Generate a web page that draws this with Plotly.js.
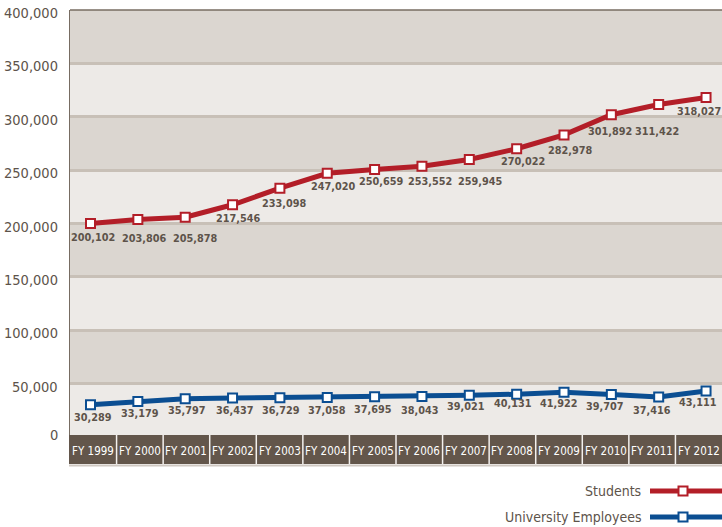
<!DOCTYPE html>
<html>
<head>
<meta charset="utf-8">
<script src="https://cdn.plot.ly/plotly-3.0.1.min.js"></script>
<style>
  html, body { margin: 0; padding: 0; background: #ffffff; }
  #chart { width: 722px; height: 527px; }
</style>
</head>
<body>
<div id="chart"></div>
<script>
// ---- data ----
var categories = ["FY 1999","FY 2000","FY 2001","FY 2002","FY 2003","FY 2004","FY 2005",
                  "FY 2006","FY 2007","FY 2008","FY 2009","FY 2010","FY 2011","FY 2012"];
var students = [200102, 203806, 205878, 217546, 233098, 247020, 250659,
                253552, 259945, 270022, 282978, 301892, 311422, 318027];
var employees = [30289, 33179, 35797, 36437, 36729, 37058, 37695,
                 38043, 39021, 40131, 41922, 39707, 37416, 43111];
var seriesNames = ["Students", "University Employees"];
var yTickValues = [0, 50000, 100000, 150000, 200000, 250000, 300000, 350000, 400000];

// ---- label placement (pixel nudges, layout only) ----
var studentDx = [2.5, 5.8, 9.5, 5.8, 3.9, 5.5, 6.4, 7.8, 10.2, 6.4, 5.5, -1.7, -1.2, -6.6];
var studentDy = [14.6, 18.6, 20.8, 14.2, 15.8, 12.7, 12.3, 15.4, 22.2, 13.2, 15.1, 17, 27.1, 14.2];
var employeeDx = [2.5, 1.7, 0.8, 1.5, 0.9, -0.6, -1.6, -2.3, -3.3, -4.0, -5.3, -6.7, -6.7, -8.1];
var employeeDy = [12.6, 11.7, 11.9, 12.6, 12.9, 13.3, 13.2, 14.3, 10.7, 9.8, 11.1, 11.4, 13.6, 11.7];

// ---- styles ----
var RED = "#b31e28", BLUE = "#0b4e92";
var TXT = "#5d534a";
var FONT = "'DejaVu Sans Condensed', 'Liberation Sans Narrow', 'Arial Narrow', sans-serif";
var PLOT_TOP = 10, PLOT_BOTTOM = 437, PLOT_LEFT = 70, PLOT_RIGHT = 722;
var plotH = PLOT_BOTTOM - PLOT_TOP, plotW = PLOT_RIGHT - PLOT_LEFT;
function py(p) { return (PLOT_BOTTOM - p) / plotH; }   // pixel row -> paper y
function px(p) { return (p - PLOT_LEFT) / plotW; }     // pixel col -> paper x

function fmt(v) { return v.toLocaleString("en-US"); }

var traces = [
  {
    x: categories, y: students, name: seriesNames[0], type: "scatter", mode: "lines+markers",
    line: { color: RED, width: 5 },
    marker: { symbol: "square", size: 9, color: "#ffffff", line: { color: RED, width: 2 } },
    hoverinfo: "skip", showlegend: false
  },
  {
    x: categories, y: employees, name: seriesNames[1], type: "scatter", mode: "lines+markers",
    line: { color: BLUE, width: 5 },
    marker: { symbol: "square", size: 9, color: "#ffffff", line: { color: BLUE, width: 2 } },
    hoverinfo: "skip", showlegend: false
  }
];

var shapes = [];
// alternating darker bands
for (var k = 1; k < yTickValues.length; k += 2) {
  shapes.push({ type: "rect", xref: "paper", yref: "y", x0: 0, x1: 1,
    y0: yTickValues[k], y1: yTickValues[k + 1], fillcolor: "#dbd6d0",
    line: { width: 0 }, layer: "below" });
}
// top border
shapes.push({ type: "line", xref: "paper", yref: "paper", x0: 0, x1: 1, y0: 1, y1: 1,
  line: { color: "#776c62", width: 1.5 } });
// category band
shapes.push({ type: "rect", xref: "paper", yref: "paper", x0: px(69), x1: 1,
  y0: py(464), y1: py(435), fillcolor: "#63564b", line: { width: 0 }, layer: "above" });
shapes.push({ type: "line", xref: "paper", yref: "paper", x0: px(69), x1: 1,
  y0: py(465.5), y1: py(465.5), line: { color: "#cfc8c1", width: 2 } });
for (var i = 1; i < categories.length; i++) {
  shapes.push({ type: "line", xref: "paper", yref: "paper",
    x0: i / categories.length, x1: i / categories.length, y0: py(464), y1: py(435),
    line: { color: "#f4f1ee", width: 1.5 }, layer: "above" });
}

var annotations = [];
// y-axis tick labels (sit a few pixels below their grid lines, as in the original)
yTickValues.forEach(function (v) {
  annotations.push({ text: fmt(v), xref: "paper", yref: "y", x: px(60), y: v,
    yshift: v === 0 ? 2 : -3, xanchor: "right", yanchor: "middle", showarrow: false,
    font: { family: FONT, size: 14.5, color: TXT } });
});
// category labels in the band
categories.forEach(function (c, i) {
  annotations.push({ text: c, xref: "paper", yref: "paper",
    x: (i + 0.5) / categories.length, y: py(451), xanchor: "center", yanchor: "middle",
    showarrow: false, font: { family: FONT, size: 11.5, color: "#ffffff" } });
});
// data labels
students.forEach(function (v, i) {
  annotations.push({ text: fmt(v), x: categories[i], y: v, xref: "x", yref: "y",
    xshift: studentDx[i], yshift: -studentDy[i], showarrow: false,
    xanchor: "center", yanchor: "middle",
    font: { family: FONT, size: 10.8, color: TXT, weight: "bold" } });
});
employees.forEach(function (v, i) {
  annotations.push({ text: fmt(v), x: categories[i], y: v, xref: "x", yref: "y",
    xshift: employeeDx[i], yshift: -employeeDy[i], showarrow: false,
    xanchor: "center", yanchor: "middle",
    font: { family: FONT, size: 10.8, color: TXT, weight: "bold" } });
});

// manual legend (text left of the symbol)
var legendRows = [
  { name: seriesNames[0], color: RED, yPix: 491 },
  { name: seriesNames[1], color: BLUE, yPix: 517 }
];
legendRows.forEach(function (r) {
  annotations.push({ text: r.name, xref: "paper", yref: "paper", x: px(643), y: py(r.yPix),
    xanchor: "right", yanchor: "middle", showarrow: false,
    font: { family: FONT, size: 14, color: TXT } });
  shapes.push({ type: "line", xref: "paper", yref: "paper", x0: px(650), x1: 1,
    y0: py(r.yPix), y1: py(r.yPix), line: { color: r.color, width: 5 } });
  shapes.push({ type: "rect", xref: "paper", yref: "paper",
    xsizemode: "pixel", ysizemode: "pixel", xanchor: px(683), yanchor: py(r.yPix),
    x0: -4.5, x1: 4.5, y0: -4.5, y1: 4.5,
    fillcolor: "#ffffff", line: { color: r.color, width: 2 } });
});

var layout = {
  width: 722, height: 527,
  margin: { l: PLOT_LEFT, r: 722 - PLOT_RIGHT, t: PLOT_TOP, b: 527 - PLOT_BOTTOM, pad: 0 },
  paper_bgcolor: "#ffffff",
  plot_bgcolor: "#edeae7",
  showlegend: false,
  xaxis: {
    type: "category", range: [-0.433, 13.337],
    showgrid: false, zeroline: false, showline: false, showticklabels: false, ticks: ""
  },
  yaxis: {
    range: [0, 400000], tickvals: yTickValues,
    showgrid: true, gridcolor: "#c8c0b7", gridwidth: 3,
    zeroline: false, showline: true, linecolor: "#776c62", linewidth: 1.5,
    ticks: "", showticklabels: false
  },
  shapes: shapes,
  annotations: annotations
};

Plotly.newPlot("chart", traces, layout, { displayModeBar: false, staticPlot: true });
</script>
</body>
</html>
